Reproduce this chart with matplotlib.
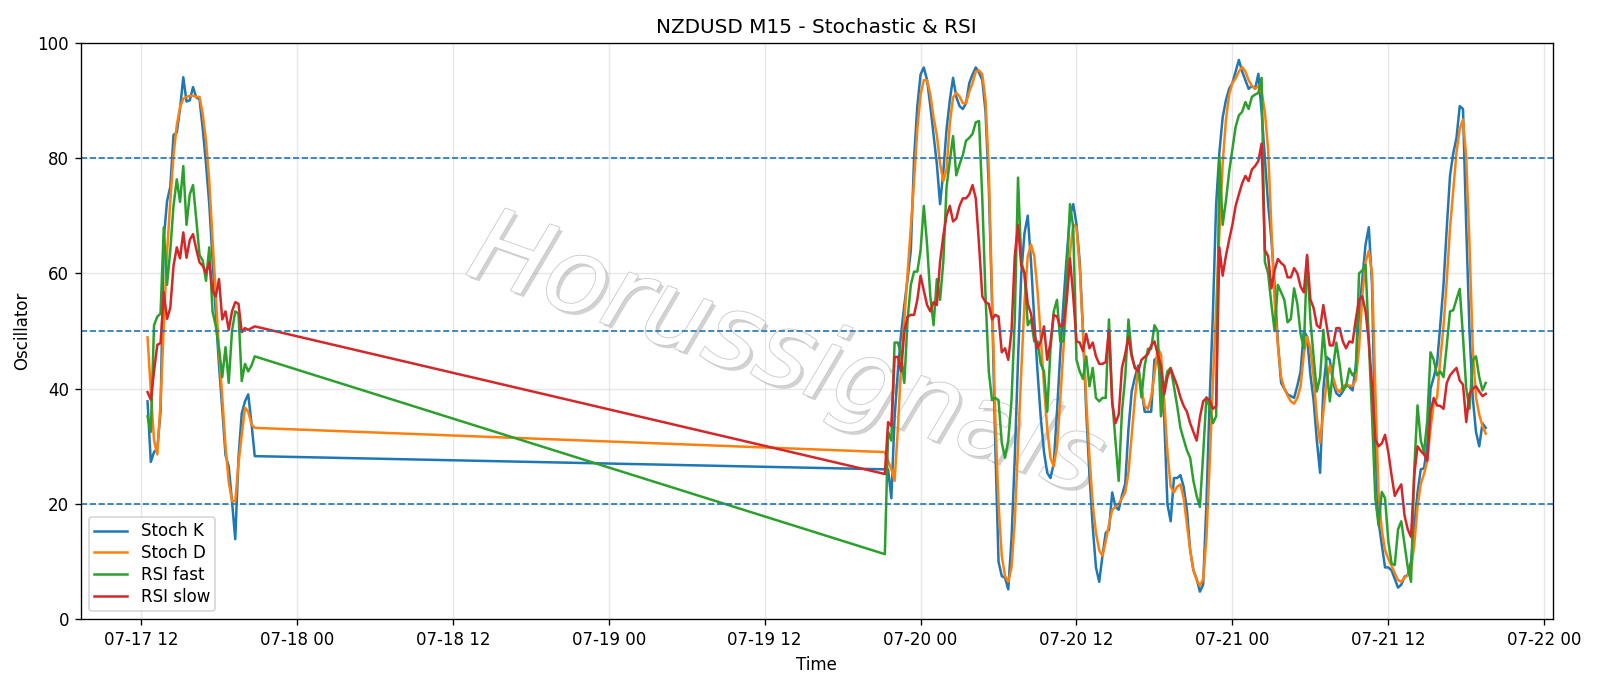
import pandas as pd
import matplotlib
matplotlib.use("Agg")
import matplotlib.pyplot as plt
import matplotlib.dates as mdates
import matplotlib.patheffects as pe

# M15 bars: friday afternoon, then sunday open -> tuesday evening
times_fri = pd.date_range("2020-07-17 12:30", "2020-07-17 20:45", freq="15min")
times_week = pd.date_range("2020-07-19 21:15", "2020-07-21 19:30", freq="15min")

stoch_k_fri = [37.8, 27.3, 29, 29.6, 36, 66, 72.5, 75, 84, 84.4,
               88.5, 94, 89.8, 90, 92.3, 90.5, 90.2, 85, 79, 72,
               62.5, 53, 44, 36.5, 28.5, 26.5, 20.5, 13.9, 28, 35.7,
               37.8, 39, 34, 28.3]
stoch_d_fri = [48.9, 39.7, 31, 28.6, 37.5, 51, 63.5, 72.5, 80.5, 85.7,
               88.8, 90.3, 90.6, 90.8, 90.8, 90.6, 90.6, 87.6, 83, 76,
               66, 56.5, 46.5, 38.5, 30, 23.8, 20.5, 20.5, 27, 32,
               36.7, 36, 33.8, 33.2]
rsi_fast_fri = [35.2, 32.5, 51, 52.5, 53, 68, 58, 64, 71.7, 76.3,
                72.4, 78.6, 68.4, 73.7, 75.3, 69.4, 63.2, 62.2, 58.7, 64.5,
                53.4, 50.9, 47, 42, 47.2, 41, 50, 53.4, 53, 41.3,
                44.3, 43, 44, 45.6]
rsi_slow_fri = [39.4, 38.1, 43, 47.6, 47.9, 56.7, 52.1, 54, 61.3, 64.5,
                62.6, 67.1, 62.7, 65.8, 66.8, 64.2, 61.9, 61.3, 60, 61.9,
                57, 56, 59, 52, 53.4, 50.2, 53.4, 55, 54.7, 49.8,
                50.5, 50.2, 50.5, 50.8]

stoch_k_week = [26, 26, 21, 35, 43, 49.5, 54.5, 59, 64, 80,
                89, 94.5, 95.7, 93.5, 89, 84, 79, 72, 77.6, 85,
                90, 93.9, 90.6, 89, 88.5, 89.5, 93, 94.5, 95.7, 94.8,
                93.5, 88, 75, 55, 30, 10, 7.5, 7.2, 5.2, 14,
                28, 45, 60, 67, 70, 62, 52, 43, 35, 29,
                25.4, 24.5, 27, 36, 46, 55, 63, 70, 72, 68.5,
                62, 50, 36, 25, 16, 9, 6.5, 11, 15, 15.5,
                22, 19.5, 19, 21.5, 23.5, 33, 39.5, 42, 44, 40,
                36, 36, 36, 45, 45.5, 41, 35, 20, 17, 24.5,
                24.5, 25, 23, 19, 12, 8.5, 7, 4.8, 6, 20,
                38, 53, 72, 81, 87, 90, 92, 93, 95, 97,
                95, 93.5, 92, 92.5, 92, 94.6, 88, 80, 72, 66,
                58, 48, 41, 40, 39, 38.7, 38.4, 40.5, 43, 50,
                49, 42.5, 38, 31, 25.4, 40, 45.5, 45, 41, 39.2,
                38.7, 39.5, 40.7, 40.3, 39.7, 44, 53, 59, 65, 68,
                58, 30, 16.9, 13, 9, 9, 8.5, 7, 5.5, 6,
                7.4, 7.7, 10, 16, 22, 26, 26.2, 30, 40, 42,
                44.3, 51, 58, 67.8, 76.9, 80.8, 83.5, 89, 88.5, 68,
                50, 38.5, 32.5, 30, 34, 33.2]
stoch_d_week = [29, 27.5, 26, 24, 33, 44, 52, 60, 68, 76,
                85, 91, 93.5, 93.5, 91, 87, 84, 79, 76, 78,
                86, 90.5, 91.3, 90.7, 89.5, 89.5, 91.5, 93, 95, 95.2,
                94.5, 90, 78, 56, 35, 20, 11, 7.5, 6.5, 9,
                17, 30, 43, 55, 63, 65, 63, 57, 49, 40.5,
                33, 28, 26.5, 30, 38, 47, 56, 63.5, 68.5, 68,
                61, 50, 38, 28, 20, 15, 12, 11, 13.5, 16.5,
                19, 19.5, 20, 21, 22, 25.4, 32, 38.4, 43.6, 40,
                37, 36.5, 38.5, 42.5, 47, 46, 38, 29, 23, 22,
                23, 23.4, 21, 16.5, 12, 8.5, 6.8, 5.8, 7, 14,
                27, 41, 54, 67, 79, 86.5, 91, 93, 93.8, 95,
                95.8, 95, 93.5, 92.5, 92, 92.5, 91.5, 88, 81.5, 68,
                55, 47.6, 42, 40, 38.8, 37.8, 37.4, 38.4, 40.4, 46,
                49, 47, 42, 35, 30.6, 36, 41, 44, 42, 40,
                39.4, 40.4, 40.7, 40.5, 40.5, 41.5, 47, 56, 62, 63.9,
                60, 40, 22, 15.5, 12, 10.5, 9.3, 8, 6.8, 6.5,
                7.2, 7.7, 8.5, 13, 19.5, 23.5, 25.2, 27.5, 33, 37.5,
                38.4, 45, 50.8, 58.7, 67.8, 74.5, 81, 85, 86.7, 80,
                65, 47, 38.5, 35.5, 33.5, 32.2]
rsi_fast_week = [11.3, 32.5, 31, 48, 48, 46, 41, 52, 58, 60.3,
                 60.3, 64, 71.7, 65, 56, 51, 59, 55.4, 62, 75,
                 79.5, 83.8, 77, 78.9, 80.5, 83, 83.5, 84.2, 86.2, 86.4,
                 73, 56, 43, 38, 38.4, 38, 30.6, 28, 31, 38,
                 52, 76.6, 62, 60, 51, 52, 48.2, 48.2, 44.3, 43,
                 36, 47, 53.4, 55.4, 48.2, 48.2, 60, 72, 68, 45,
                 43, 41.7, 45.6, 40.4, 43.6, 38.4, 37.8, 38.4, 38.4, 52,
                 38, 31, 24, 36, 42, 52, 46, 43.5, 43.6, 38.5,
                 44, 46.9, 46.9, 51, 50, 35.2, 40, 43, 43.6, 40.4,
                 37, 33.2, 31.2, 29.3, 28, 24, 21.4, 19.5, 28.6, 38.5,
                 36.8, 34, 35.2, 80.2, 68.4, 72.5, 77.6, 81.5, 85.4, 87.4,
                 88, 89.7, 88.5, 90.6, 91, 91.3, 93.9, 62, 60, 54.7,
                 50, 58, 56.7, 55.4, 51.5, 52.1, 57.4, 54.7, 49.5, 47,
                 62.9, 52, 45.6, 39.5, 42, 50.2, 43.6, 37.8, 43.6, 48,
                 44.3, 39.7, 40.4, 43.5, 42.3, 43, 60, 60.5, 61.5, 48.2,
                 35.2, 21, 16.3, 22.1, 21, 13.6, 9.7, 9.4, 15.6, 17,
                 13, 9, 6.5, 26, 37.1, 31, 29, 34.5, 46.3, 45,
                 42.3, 43, 42, 47.5, 53.4, 53.6, 55.5, 57.3, 49, 40,
                 36.5, 45, 45.6, 42, 39.7, 41]
rsi_slow_week = [25.2, 34.2, 33.5, 45.5, 45.5, 43, 50, 52.5, 52.8, 52.8,
                 55.4, 59.6, 57, 54.5, 53.4, 55, 54.5, 62, 66.5, 70,
                 71.7, 69, 69.5, 71.7, 73, 73, 73.7, 75.3, 73, 65,
                 56, 55, 54.7, 52, 52.8, 52.5, 46.3, 47, 45, 50,
                 63, 68.4, 61.3, 60, 54.7, 53, 49.5, 47, 48.2, 50.8,
                 45, 48, 52.8, 52.5, 50.8, 51, 55.4, 62.6, 56, 48.2,
                 48, 46.5, 49.5, 47, 48, 45.6, 44.3, 44.3, 44.6, 50.2,
                 37.5, 34, 35.5, 43.6, 46, 49, 45.6, 43.6, 43, 45,
                 45.5, 46, 47.5, 48.2, 46, 44, 39, 42, 43.5, 42,
                 40.5, 38.5, 37, 36, 34, 32.5, 31, 35, 37.8, 38.4,
                 38, 36.5, 37, 64.5, 59.6, 63, 65.8, 68.4, 71.7, 73.7,
                 75.6, 76.9, 76, 78, 78.6, 79.5, 82.5, 64, 63, 57.4,
                 60.5, 62.5, 61.8, 61.3, 59.3, 59.3, 60.9, 60, 57.7, 56.7,
                 63.2, 55.5, 54, 51, 50.5, 54.5, 51, 47.5, 47.5, 50.5,
                 50.5, 48.2, 47, 48.2, 48, 52, 55.4, 56, 53.4, 48.2,
                 40.5, 31.2, 30, 30.5, 32, 29, 25, 21.4, 22.5, 23.4,
                 18, 15.6, 14.3, 25, 30, 29.2, 28.6, 27.5, 36, 38.4,
                 37.1, 37, 36.5, 41, 42.3, 43, 43.6, 41.4, 40.7, 34.2,
                 39.1, 40, 40.4, 39.5, 38.7, 39.1]

levels = [20, 50, 80]

times = times_fri.append(times_week)

fig = plt.figure(figsize=(1600 / 120, 686 / 120), dpi=120)
ax = fig.add_axes([0.0504, 0.0972, 0.92, 0.8406])

ax.plot(times, stoch_k_fri + stoch_k_week, label="Stoch K")
ax.plot(times, stoch_d_fri + stoch_d_week, label="Stoch D")
ax.plot(times, rsi_fast_fri + rsi_fast_week, label="RSI fast")
ax.plot(times, rsi_slow_fri + rsi_slow_week, label="RSI slow")

for lvl in levels:
    ax.axhline(lvl, linestyle="--", linewidth=1, color="C0")

# watermark
ax.text(0.479, 0.455, "Horussignals", transform=ax.transAxes,
        fontsize=62, style="italic", color="white", rotation=-19.5,
        ha="center", va="center", zorder=1.6,
        path_effects=[pe.SimplePatchShadow(offset=(2, -2), shadow_rgbFace="#909090", alpha=0.4),
                      pe.Stroke(linewidth=1.0, foreground="#c8c8c8"),
                      pe.Normal()])

ax.set_ylim(0, 100)
ax.set_title("NZDUSD M15 - Stochastic & RSI")
ax.set_xlabel("Time")
ax.set_ylabel("Oscillator")
ax.grid(True, alpha=0.3)
ax.legend(loc="lower left", labelspacing=0.23, borderpad=0.3)
ax.xaxis.set_major_locator(mdates.HourLocator(byhour=[0, 12]))
ax.xaxis.set_major_formatter(mdates.DateFormatter("%m-%d %H"))

fig.savefig("out.png", dpi=120)
